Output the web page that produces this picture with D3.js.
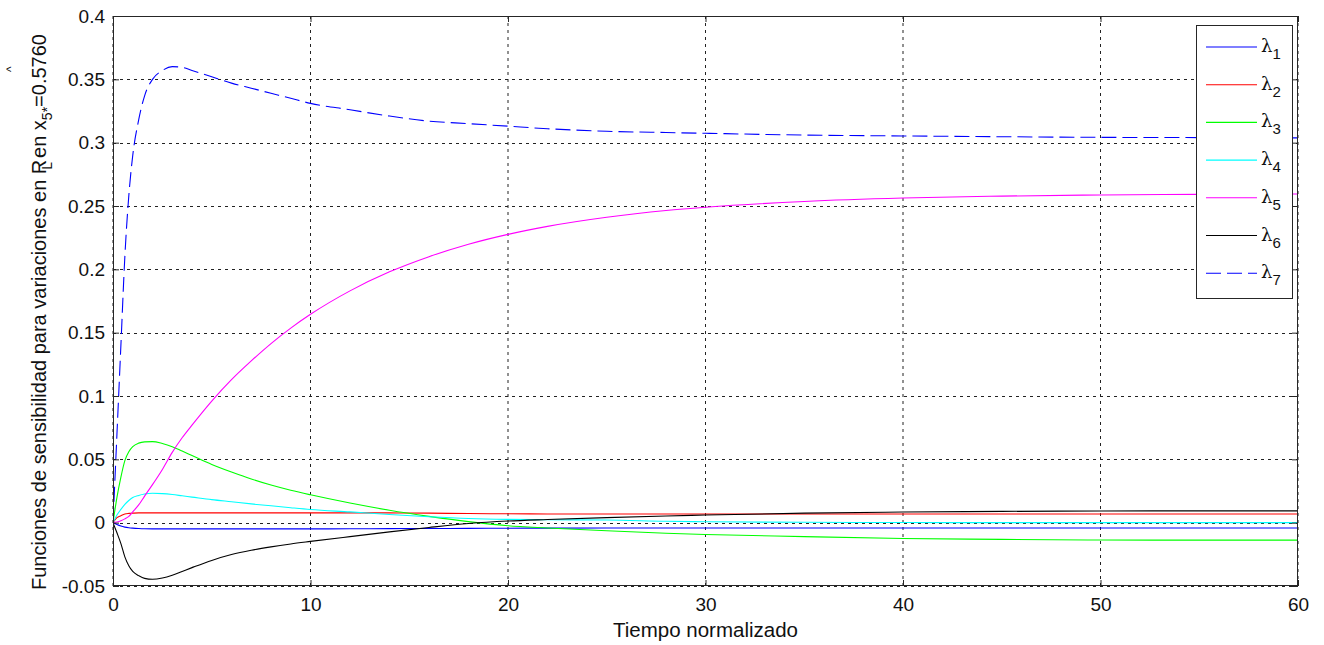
<!DOCTYPE html>
<html><head><meta charset="utf-8">
<script src="https://cdn.jsdelivr.net/npm/d3@7"></script>
<style>body{margin:0;background:#fff}svg{display:block}text{font-family:"Liberation Sans",Arial,sans-serif}</style>
</head><body>
<script>
const times = [0,0.2,0.4,0.6,0.8,1.0,1.3,1.6,2.0,2.5,3.0,3.5,4.0,5,6,7,8,9,10,12,14,16,18,20,22,25,28,30,35,40,45,50,55,60];
const lambda1 = [0,-0.0015,-0.0027,-0.0035,-0.004,-0.0043,-0.0046,-0.0048,-0.0049,-0.0049,-0.0049,-0.0049,-0.0049,-0.0049,-0.0049,-0.0049,-0.0049,-0.0049,-0.0049,-0.0048,-0.0047,-0.0046,-0.0045,-0.0044,-0.0043,-0.0042,-0.0042,-0.0042,-0.0042,-0.0042,-0.0042,-0.0042,-0.0042,-0.0042];
const lambda2 = [0,0.004,0.0055,0.0068,0.0073,0.0075,0.0077,0.0077,0.0077,0.0077,0.0077,0.0077,0.0077,0.0077,0.0077,0.0077,0.0077,0.0077,0.0077,0.0077,0.0077,0.0075,0.0072,0.007,0.0069,0.0069,0.0069,0.0069,0.0069,0.0069,0.0069,0.0069,0.0069,0.0069];
const lambda3 = [0,0.02,0.036,0.049,0.056,0.060,0.0628,0.0638,0.064,0.0625,0.060,0.0565,0.053,0.046,0.0400,0.0345,0.0297,0.0256,0.022,0.0155,0.0098,0.005,0.0008,-0.0024,-0.0042,-0.0064,-0.0083,-0.0093,-0.011,-0.0125,-0.0132,-0.0137,-0.0138,-0.0138];
const lambda4 = [0,0.006,0.0105,0.0145,0.0175,0.0198,0.0215,0.0226,0.0232,0.0229,0.0222,0.0212,0.0202,0.0182,0.0165,0.0148,0.0133,0.0118,0.0104,0.0085,0.0065,0.0047,0.0033,0.0026,0.0023,0.0021,0.0011,0.0007,0.0003,0.0001,0,0,0,0];
const lambda5 = [0,0.0005,0.0015,0.003,0.005,0.0085,0.014,0.021,0.030,0.042,0.0555,0.067,0.077,0.096,0.1129,0.1277,0.1414,0.1536,0.1645,0.183,0.198,0.210,0.2198,0.2276,0.2339,0.2411,0.2464,0.249,0.2536,0.2563,0.2578,0.2587,0.2592,0.2595];
const lambda6 = [0,-0.008,-0.0165,-0.027,-0.034,-0.0385,-0.0418,-0.044,-0.0447,-0.0437,-0.0415,-0.0385,-0.0355,-0.0298,-0.0252,-0.0218,-0.0191,-0.0168,-0.0148,-0.011,-0.0073,-0.0038,-0.0007,0.0013,0.0025,0.004,0.0053,0.006,0.0075,0.0084,0.0089,0.0092,0.0093,0.0093];
const lambda7 = [0,0.07,0.14,0.21,0.258,0.29,0.318,0.337,0.350,0.357,0.360,0.3595,0.357,0.352,0.347,0.343,0.339,0.335,0.331,0.326,0.321,0.317,0.315,0.313,0.311,0.309,0.308,0.3074,0.306,0.3053,0.3047,0.3042,0.304,0.3038];
const seriesNames = ["1","2","3","4","5","6","7"];
const seriesColors = ["#0000ff","#ff0000","#00ff00","#00ffff","#ff00ff","#000000","#0000ff"];
const seriesDash = [null,null,null,null,null,null,"15,6"];
const xTicks = [0,10,20,30,40,50,60];
const yTicks = [-0.05,0,0.05,0.1,0.15,0.2,0.25,0.3,0.35,0.4];
const xLabel = "Tiempo normalizado";

const allSeries = [lambda1,lambda2,lambda3,lambda4,lambda5,lambda6,lambda7];
const W=1324,H=645;
const L=113,R=1298,T=16,B=586;
const svg = d3.select("body").append("svg").attr("width",W).attr("height",H);
const x = d3.scaleLinear().domain([0,60]).range([L,R]);
const y = d3.scaleLinear().domain([-0.05,0.4]).range([B,T]);

svg.append("clipPath").attr("id","clip").append("rect").attr("x",L).attr("y",T).attr("width",R-L).attr("height",B-T);

// grid
const grid = svg.append("g");
grid.selectAll(".vg").data(xTicks).enter().append("line")
  .attr("x1",d=>x(d)).attr("x2",d=>x(d)).attr("y1",T).attr("y2",B)
  .attr("stroke","#222").attr("stroke-width",1).attr("stroke-dasharray","3,4");
grid.selectAll(".hg").data(yTicks).enter().append("line")
  .attr("x1",L).attr("x2",R).attr("y1",d=>Math.round(y(d))+0.5).attr("y2",d=>Math.round(y(d))+0.5)
  .attr("stroke","#222").attr("stroke-width",1).attr("stroke-dasharray","3,4");

// lines
const line = d3.line().x((d,i)=>x(times[i])).y(d=>y(d)).curve(d3.curveMonotoneX);
const lg = svg.append("g").attr("clip-path","url(#clip)");
allSeries.forEach((s,k)=>{
  lg.append("path").attr("d",line(s)).attr("fill","none")
    .attr("stroke",seriesColors[k]).attr("stroke-width",1.1)
    .attr("stroke-dasharray",seriesDash[k]);
});

// axes box
svg.append("rect").attr("x",L+0.5).attr("y",T+0.5).attr("width",R-L-1).attr("height",B-T-1)
  .attr("fill","none").attr("stroke","#262626").attr("stroke-width",1);

// axes with ticks
const xAxis = d3.axisBottom(x).tickValues(xTicks).tickSize(-6).tickPadding(12).tickFormat(d3.format("d"));
svg.append("g").attr("transform",`translate(0,${B})`).call(xAxis);
const xAxisTop = d3.axisTop(x).tickValues(xTicks).tickSize(-6).tickFormat("");
svg.append("g").attr("transform",`translate(0,${T})`).call(xAxisTop);
const yAxis = d3.axisLeft(y).tickValues(yTicks).tickSize(-6).tickPadding(8).tickFormat(d=>d===0?"0":String(+d.toFixed(2)));
svg.append("g").attr("transform",`translate(${L},0)`).call(yAxis);
const yAxisR = d3.axisRight(y).tickValues(yTicks).tickSize(-6).tickFormat("");
svg.append("g").attr("transform",`translate(${R},0)`).call(yAxisR);
svg.selectAll(".domain").remove();
svg.selectAll(".tick line").attr("stroke","#262626");
svg.selectAll(".tick text").attr("font-size",19).attr("fill","#111").attr("font-family","Liberation Sans, Arial, sans-serif");

// x label
svg.append("text").attr("x",(L+R)/2).attr("y",637).attr("text-anchor","middle")
  .attr("font-size",20.5).attr("fill","#111").text(xLabel);

// y label
const yl = svg.append("text").attr("transform","translate(46,590) rotate(-90)")
  .attr("font-size",20).attr("fill","#111");
yl.append("tspan").text("Funciones de sensibilidad para variaciones en R");
yl.append("tspan").attr("dy",6).attr("dx",-10).attr("font-size",14).text("L");
yl.append("tspan").attr("dy",-6).attr("dx",4).text("en x");
yl.append("tspan").attr("dy",6).attr("font-size",14).text("5*");
yl.append("tspan").attr("dy",-6).text("=0.5760");
svg.append("text").attr("transform","translate(15,72) rotate(-90)").attr("font-size",12).attr("fill","#111").text("^");

// legend
const lgx=1196, lgy=25, lgw=96, lgh=273;
svg.append("rect").attr("x",lgx+0.5).attr("y",lgy+0.5).attr("width",lgw).attr("height",lgh)
  .attr("fill","#fff").attr("stroke","#262626").attr("stroke-width",1);
seriesNames.forEach((n,i)=>{
  const yy = lgy + 22 + i*37.7;
  svg.append("line").attr("x1",1206).attr("x2",1257).attr("y1",yy).attr("y2",yy)
    .attr("stroke",seriesColors[i]).attr("stroke-width",1.1).attr("stroke-dasharray",seriesDash[i]);
  const t = svg.append("text").attr("x",1261).attr("y",yy+5).attr("fill","#111");
  t.append("tspan").attr("font-family","DejaVu Serif, serif").attr("font-size",18).text("λ");
  t.append("tspan").attr("dy",7).attr("font-size",15).text(n);
});
</script>
</body></html>
